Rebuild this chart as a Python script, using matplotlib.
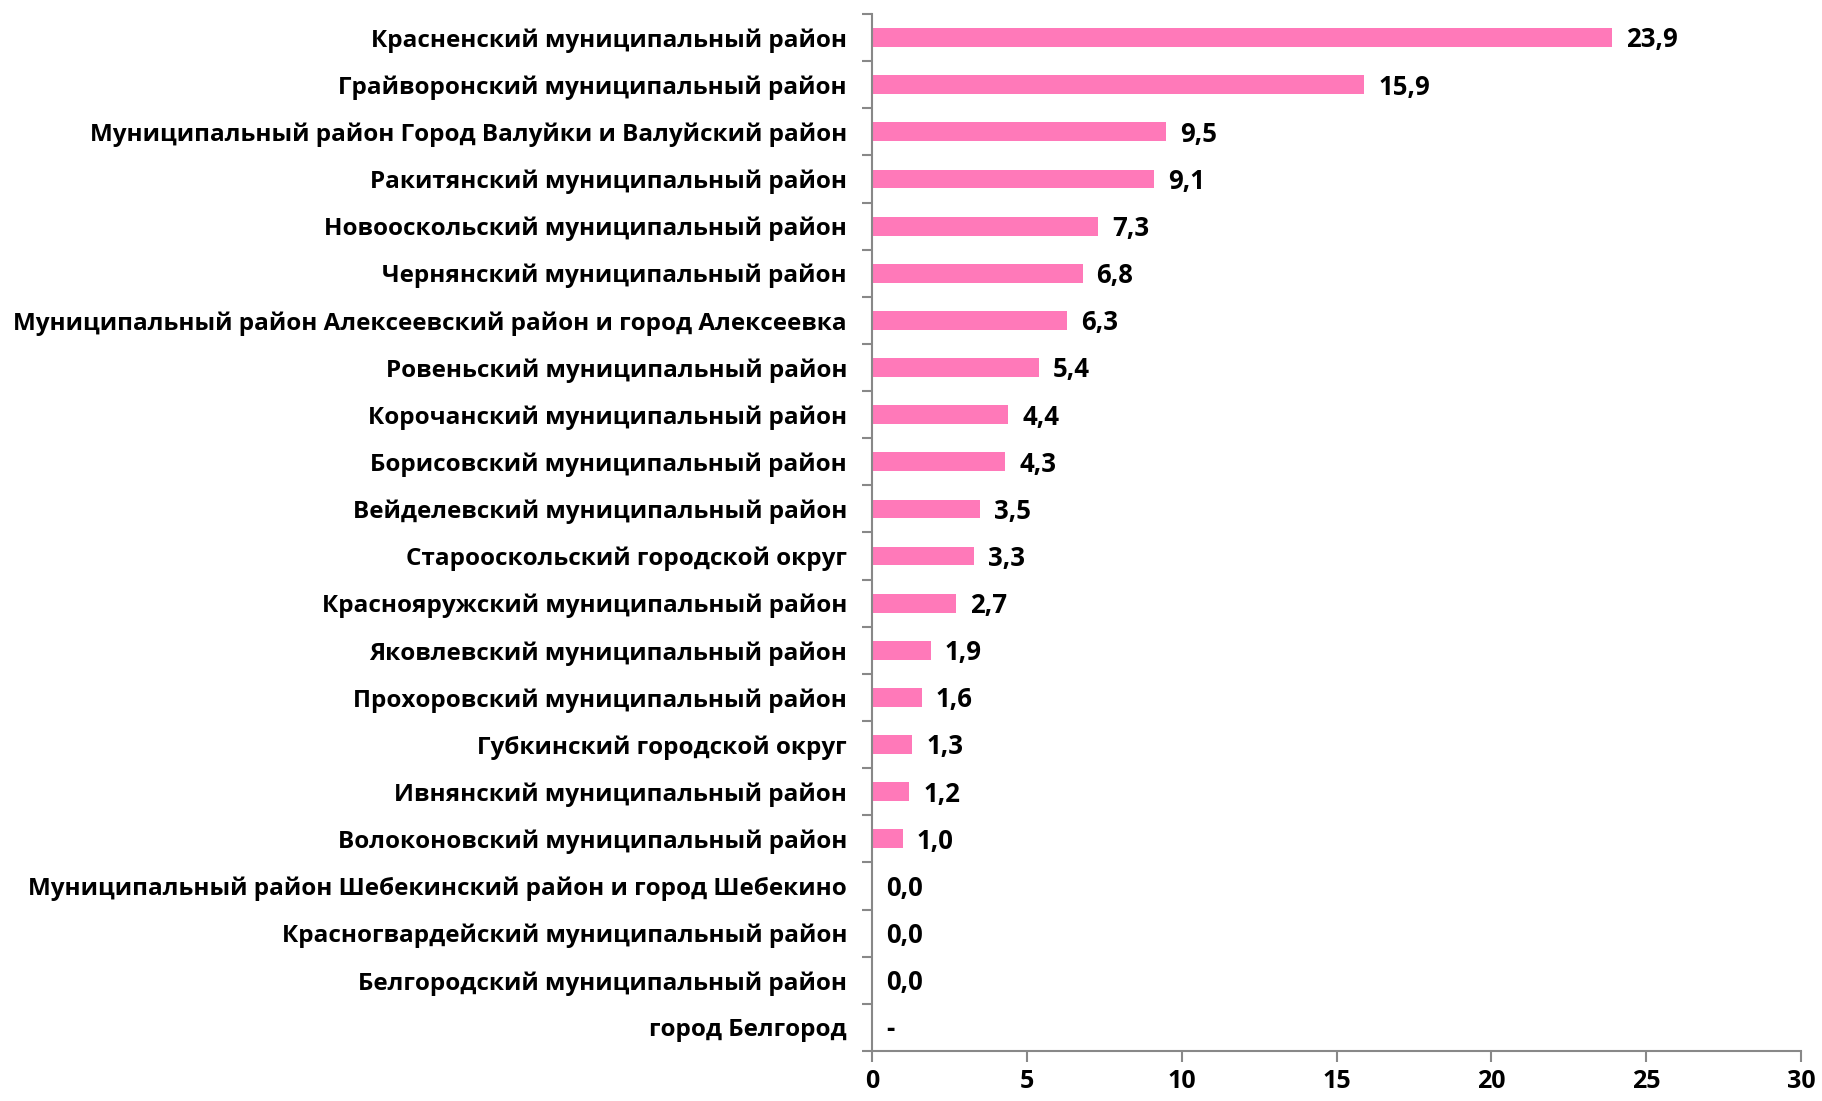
import matplotlib
matplotlib.use("Agg")
import matplotlib.pyplot as plt
import numpy as np

districts = [
    "Красненский муниципальный район",
    "Грайворонский муниципальный район",
    "Муниципальный район Город Валуйки и Валуйский район",
    "Ракитянский муниципальный район",
    "Новооскольский муниципальный район",
    "Чернянский муниципальный район",
    "Муниципальный район Алексеевский район и город Алексеевка",
    "Ровеньский муниципальный район",
    "Корочанский муниципальный район",
    "Борисовский муниципальный район",
    "Вейделевский муниципальный район",
    "Старооскольский городской округ",
    "Краснояружский муниципальный район",
    "Яковлевский муниципальный район",
    "Прохоровский муниципальный район",
    "Губкинский городской округ",
    "Ивнянский муниципальный район",
    "Волоконовский муниципальный район",
    "Муниципальный район Шебекинский район и город Шебекино",
    "Красногвардейский муниципальный район",
    "Белгородский муниципальный район",
    "город Белгород",
]
values = [23.9, 15.9, 9.5, 9.1, 7.3, 6.8, 6.3, 5.4, 4.4, 4.3, 3.5, 3.3,
          2.7, 1.9, 1.6, 1.3, 1.2, 1.0, 0.0, 0.0, 0.0, 0.0]
value_labels = ["23,9", "15,9", "9,5", "9,1", "7,3", "6,8", "6,3", "5,4",
                "4,4", "4,3", "3,5", "3,3", "2,7", "1,9", "1,6", "1,3",
                "1,2", "1,0", "0,0", "0,0", "0,0", "-"]
x_ticks = [0, 5, 10, 15, 20, 25, 30]

plt.rcParams["font.family"] = ["Open Sans", "DejaVu Sans"]
plt.rcParams["font.weight"] = "bold"

fig = plt.figure(figsize=(18.22, 11.01), dpi=100)
ax = fig.add_axes([0.4786, 0.0454, 0.5099, 0.9419])

bar_color = "#FF79B9"
axis_color = "#888888"
fs = 17.5
y = np.arange(len(districts))
ax.barh(y, values, height=0.4, color=bar_color)
for yi, v, lab in zip(y, values, value_labels):
    ax.text(v + 0.45, yi + 0.05, lab, va="center", ha="left", fontsize=18.5,
            fontweight="bold")

ax.set_ylim(len(districts) - 0.5, -0.5)
ax.set_xlim(0, 30)
ax.set_xticks(x_ticks)
ax.set_xticklabels([str(t) for t in x_ticks], fontsize=18, fontweight="bold")

ax.set_yticks(y)
ax.set_yticklabels(districts, fontsize=fs, fontweight="bold")
ax.tick_params(axis="y", length=0, pad=18)
ax.set_yticks(np.arange(len(districts) + 1) - 0.5, minor=True)
ax.tick_params(axis="y", which="minor", length=7, color=axis_color, width=1.5)
ax.tick_params(axis="x", length=8, color=axis_color, width=1.5, pad=5)

for side in ["top", "right"]:
    ax.spines[side].set_visible(False)
for side in ["left", "bottom"]:
    ax.spines[side].set_color(axis_color)
    ax.spines[side].set_linewidth(1.5)

fig.savefig("out.png", dpi=100)
